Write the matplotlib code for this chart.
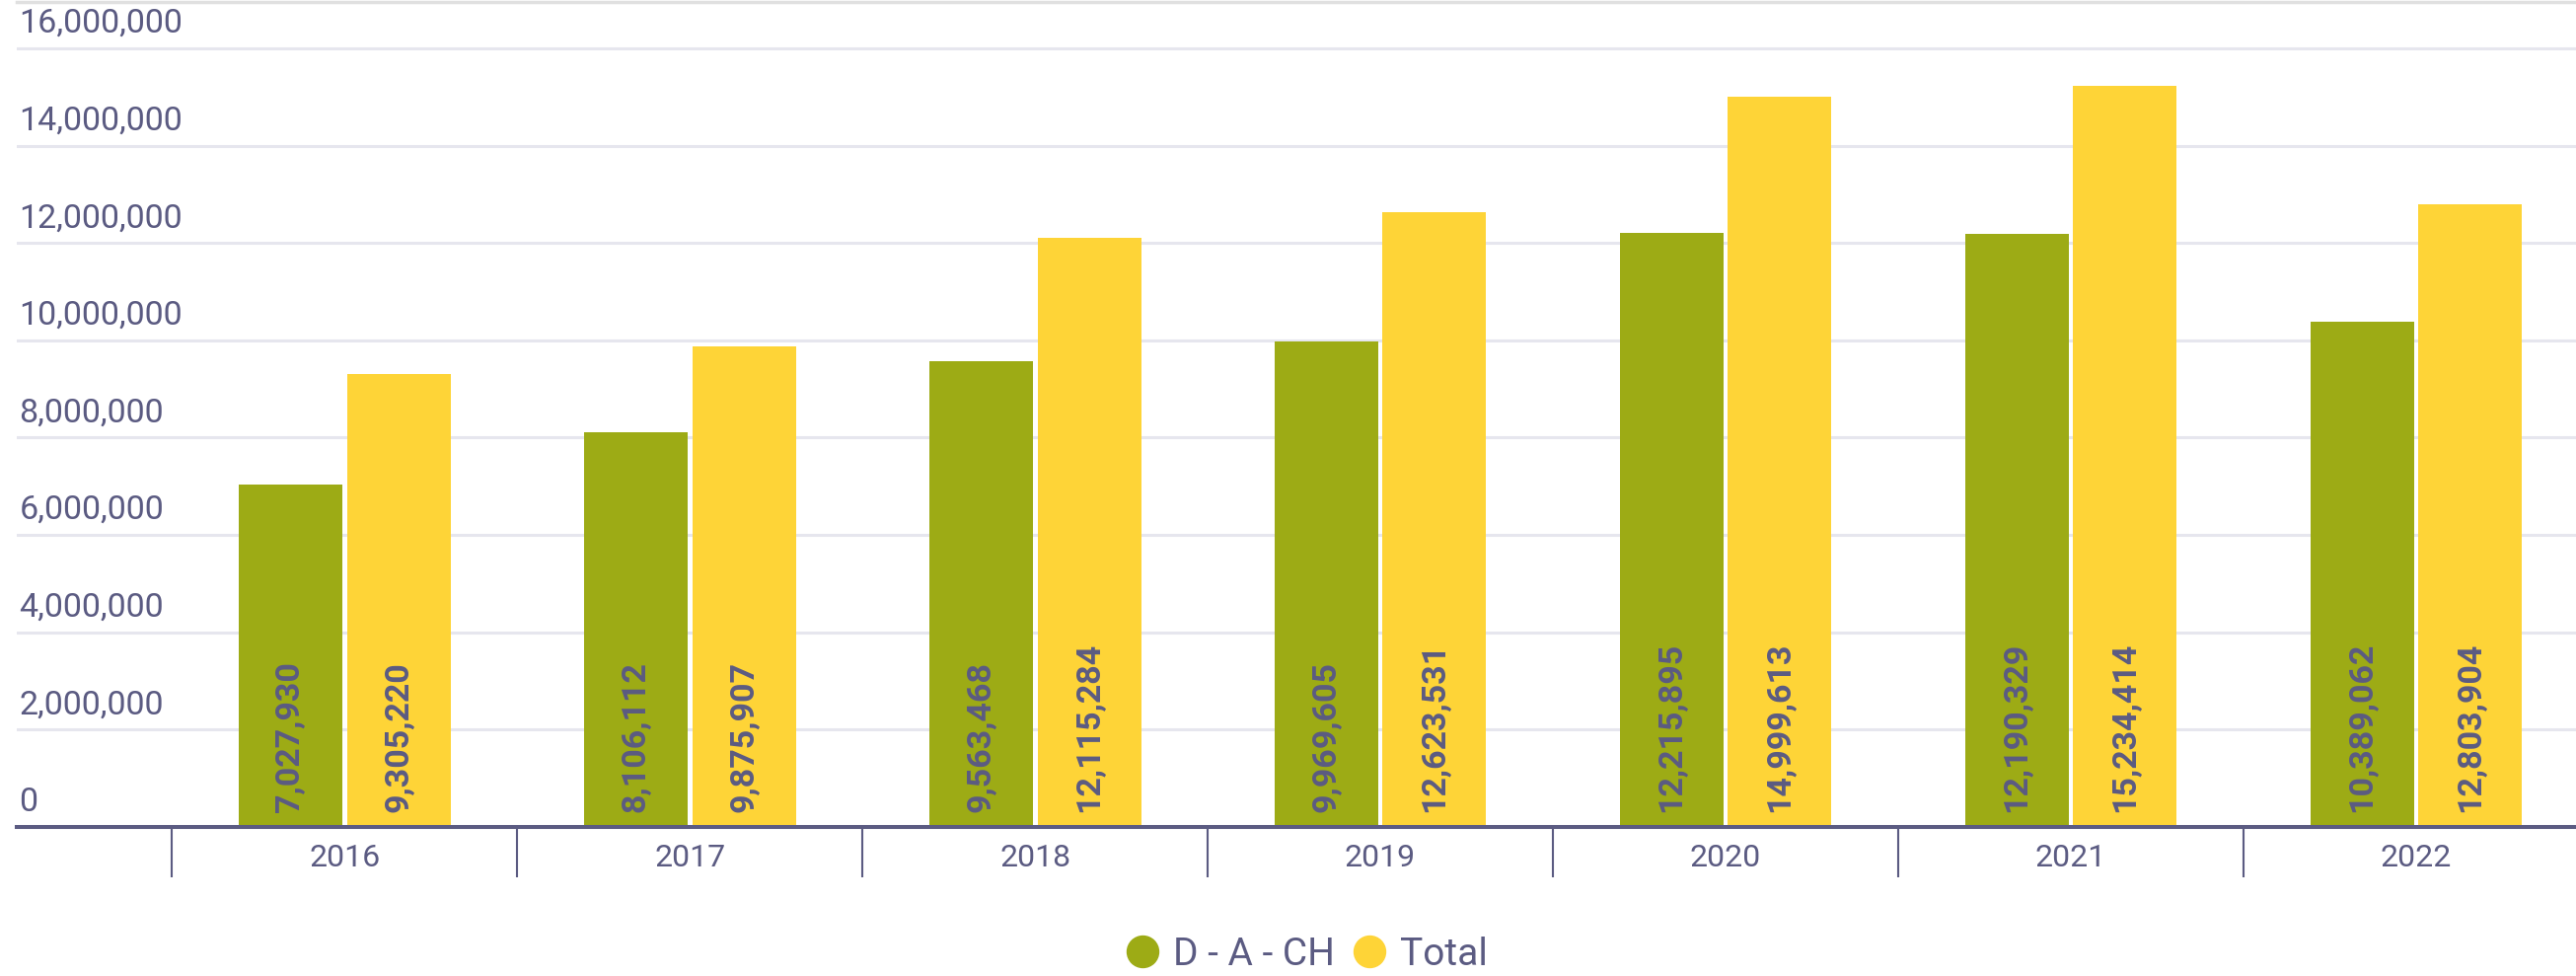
import numpy as np
import matplotlib
matplotlib.use("Agg")
import matplotlib.pyplot as plt
from matplotlib.lines import Line2D

# data
years = ["2016", "2017", "2018", "2019", "2020", "2021", "2022"]
dach = [7027930, 8106112, 9563468, 9969605, 12215895, 12190329, 10389062]
total = [9305220, 9875907, 12115284, 12623531, 14999613, 15234414, 12803904]
yticks = [0, 2000000, 4000000, 6000000, 8000000, 10000000, 12000000, 14000000, 16000000]
series_names = ["D - A - CH", "Total"]

GREEN = "#9dab15"
YELLOW = "#fed437"
TXT = "#5b5b82"
GRID = "#e6e6ee"
FONT = ["Roboto", "DejaVu Sans"]

W, H = 2611, 989
fig = plt.figure(figsize=(W / 100, H / 100), dpi=100)
ax = fig.add_axes([17 / W, 1 - 838 / H, 1 - 17 / W, (838 - 2) / H])

x = np.arange(len(years))
bw = 0.30
off = 0.157
ax.bar(x - off, dach, bw, color=GREEN, zorder=3)
ax.bar(x + off, total, bw, color=YELLOW, zorder=3)

ax.set_xlim(-0.949, 6.463)
ax.set_ylim(0, 16953000)

# gridlines + y labels sitting above them
for v in yticks:
    if v > 0:
        ax.axhline(v, color=GRID, lw=2.2, zorder=1)
    ax.annotate(f"{v:,}", xy=(0.001, v), xycoords=("axes fraction", "data"),
                xytext=(0, 9), textcoords="offset pixels", ha="left", va="bottom",
                fontsize=24.5, color=TXT, family=FONT)

# value labels inside bars
for i in range(len(years)):
    for xv, val in ((x[i] - off, dach[i]), (x[i] + off, total[i])):
        ax.annotate(f"{val:,}", xy=(xv, 0), xytext=(0, 15), textcoords="offset pixels",
                    rotation=90, ha="center", va="bottom", fontsize=24.5,
                    fontweight="bold", color=TXT, family=FONT, zorder=4)

# spines
for s in ("left", "right"):
    ax.spines[s].set_visible(False)
ax.spines["top"].set_color("#e0e0e0")
ax.spines["top"].set_linewidth(2.5)
ax.spines["bottom"].set_color(TXT)
ax.spines["bottom"].set_linewidth(2.9)
ax.spines["bottom"].set_zorder(5)

ax.set_yticks([])
ax.set_xticks(x)
ax.set_xticklabels(years, fontsize=23, color=TXT, family=FONT)
ax.tick_params(axis="x", which="major", length=0, pad=12)
ax.set_xticks(np.arange(-0.5, 6.0, 1.0), minor=True)
ax.tick_params(axis="x", which="minor", length=37, width=1.5, color=TXT, direction="out")

# legend
handles = [Line2D([], [], marker="o", ls="none", markersize=23, markerfacecolor=c,
                  markeredgecolor=c) for c in (GREEN, YELLOW)]
fig.legend(handles, series_names, loc="center", bbox_to_anchor=(1323 / W, 1 - 967 / H),
           ncol=2, frameon=False, handletextpad=0.3, columnspacing=0.4,
           handlelength=1.0, prop={"family": FONT, "size": 28},
           labelcolor=TXT)

fig.savefig("out.png", dpi=100)
